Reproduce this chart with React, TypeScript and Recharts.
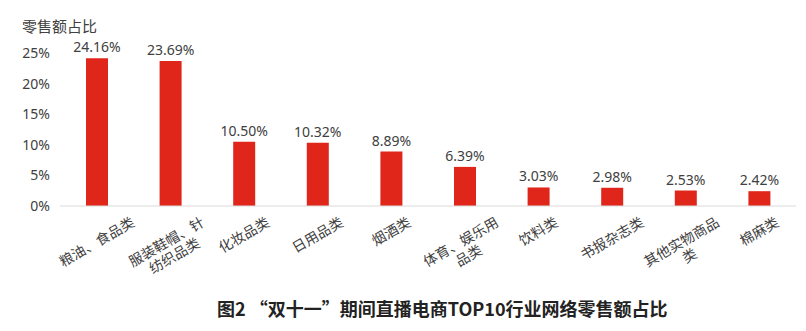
import React from "react";
import { BarChart, Bar, XAxis, YAxis, LabelList } from "recharts";

const categories = [
  "粮油、食品类",
  "服装鞋帽、针\n纺织品类",
  "化妆品类",
  "日用品类",
  "烟酒类",
  "体育、娱乐用\n品类",
  "饮料类",
  "书报杂志类",
  "其他实物商品\n类",
  "棉麻类",
];
const shares = [24.16, 23.69, 10.5, 10.32, 8.89, 6.39, 3.03, 2.98, 2.53, 2.42];
const yTicks = [0, 5, 10, 15, 20, 25];

const data = categories.map((name, i) => ({ name, share: shares[i] }));

const FONT = '"Noto Sans", "Noto Sans CJK SC", sans-serif';
const TEXT = "#404040";

const CategoryTick = (props: any) => {
  const { x, y, payload } = props;
  const lines: string[] = String(payload.value).split("\n");
  const fs = 14;
  const lh = 16;
  const w = Math.max(...lines.map((l) => l.length)) * fs;
  const h = lines.length * lh;
  // rotated box half height, so the label top sits just under the axis
  const half = (w / 2) * 0.5 + (h / 2) * 0.866;
  const cy = y + 8 + half;
  return (
    <g transform={`translate(${x},${cy}) rotate(-30)`}>
      <text textAnchor="middle" fontSize={fs} fill={TEXT} fontFamily={FONT}>
        {lines.map((l, i) => (
          <tspan key={i} x={0} y={(i - (lines.length - 1) / 2) * lh + 5}>
            {l}
          </tspan>
        ))}
      </text>
    </g>
  );
};

export default function App() {
  return (
    <div style={{ position: "absolute", left: 0, top: 0, width: 806, height: 331, background: "#fff", fontFamily: FONT }}>
      <div style={{ position: "absolute", left: 22, top: 15, fontSize: 15, color: TEXT }}>零售额占比</div>
      <BarChart
        width={806}
        height={331}
        data={data}
        margin={{ top: 53, right: 10, left: 0, bottom: 45 }}
      >
        <XAxis
          dataKey="name"
          interval={0}
          height={80}
          tickLine={false}
          tickSize={0}
          tickMargin={0}
          axisLine={{ stroke: "#d9d9d9" }}
          tick={<CategoryTick />}
        />
        <YAxis
          width={60}
          domain={[0, 25]}
          ticks={yTicks}
          axisLine={false}
          tickLine={false}
          tickSize={0}
          tickMargin={10}
          tickFormatter={(v: number) => `${v}%`}
          tick={{ fontSize: 14, fill: TEXT, fontFamily: FONT }}
        />
        <Bar dataKey="share" fill="#e0261b" barSize={22} isAnimationActive={false}>
          <LabelList
            dataKey="share"
            position="top"
            offset={6}
            formatter={(v: any) => `${Number(v).toFixed(2)}%`}
            style={{ fontSize: 14, fill: TEXT, fontFamily: FONT }}
          />
        </Bar>
      </BarChart>
      <div
        style={{
          position: "absolute",
          left: 217,
          top: 295,
          whiteSpace: "pre",
          fontSize: 18,
          fontWeight: "bold",
          color: "#222",
          fontFamily: '"Noto Sans CJK SC", sans-serif',
        }}
      >
        图2 “双十一”期间直播电商TOP10行业网络零售额占比
      </div>
    </div>
  );
}
